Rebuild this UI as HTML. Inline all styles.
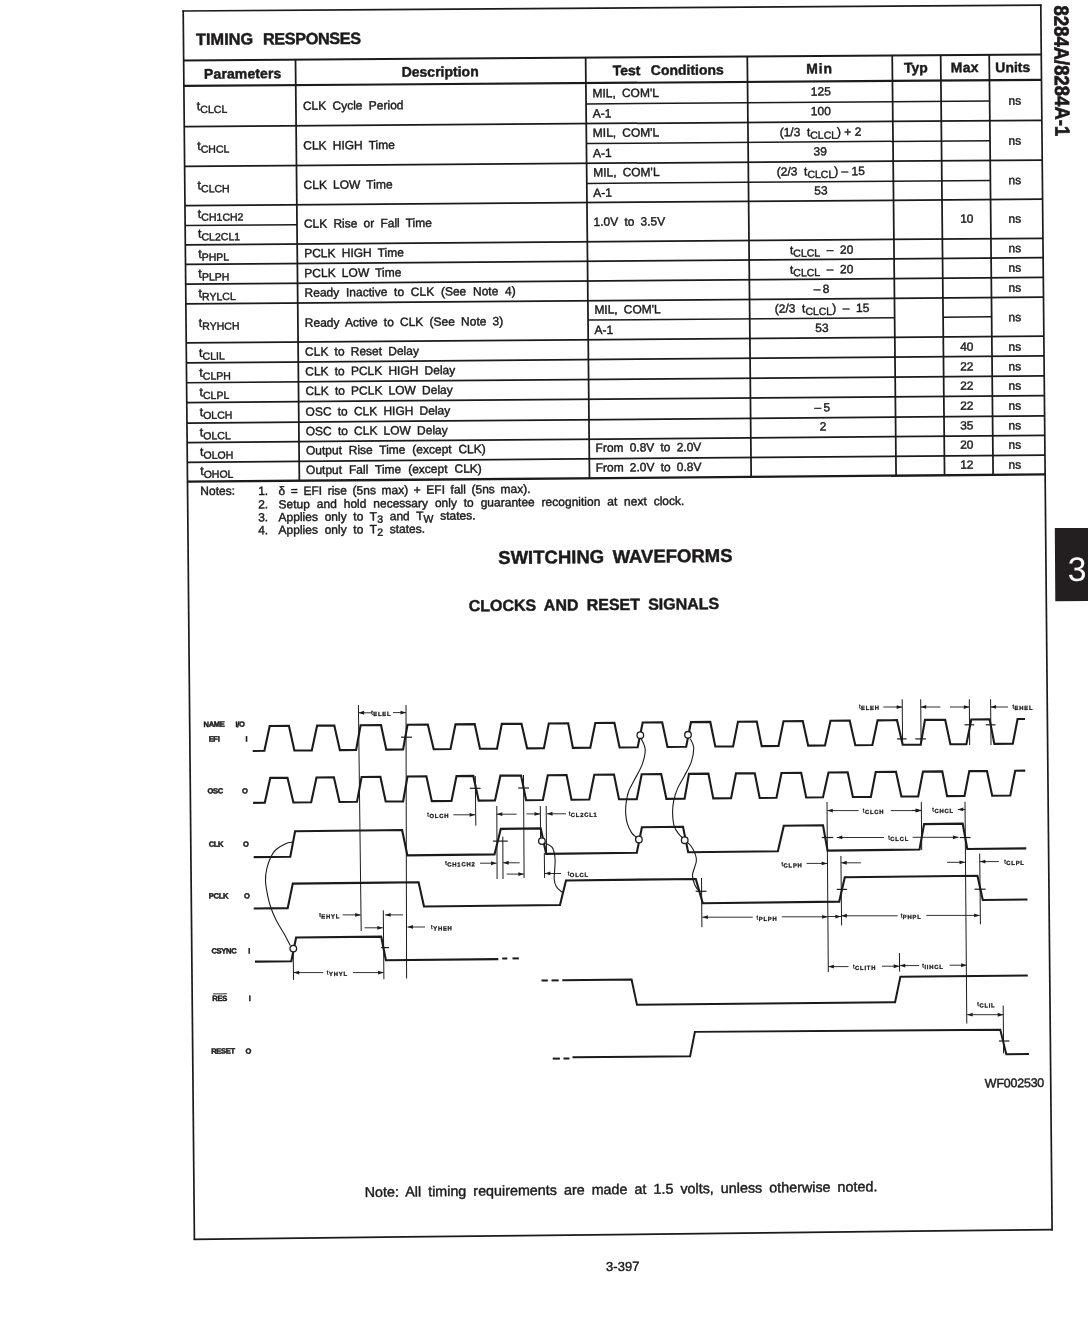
<!DOCTYPE html>
<html><head><meta charset="utf-8"><title>8284A Timing Responses</title>
<style>
html,body{margin:0;padding:0;background:#fff;width:1088px;height:1328px;overflow:hidden}
#pg{position:absolute;left:0;top:0;width:1088px;height:1328px;will-change:transform}
svg{position:absolute;left:0;top:0}
text{font-family:"Liberation Sans",sans-serif}
</style></head><body>
<div id="pg">
<svg width="1088" height="1328" viewBox="0 0 1088 1328">
<g stroke="#1c1a1b" fill="none" stroke-linecap="butt">
<line x1="182.4" y1="11.01" x2="1041.6" y2="5.19" stroke-width="1.7"/>
<line x1="193.6" y1="1239.31" x2="1052.9" y2="1229.59" stroke-width="1.7"/>
<line x1="183.19" y1="10.2" x2="194.41" y2="1240.1" stroke-width="1.7"/>
<line x1="1040.79" y1="4.4" x2="1052.11" y2="1230.4" stroke-width="1.7"/>
<line x1="183.65" y1="60.4" x2="1041.25" y2="54.45" stroke-width="2.0"/>
<line x1="183.88" y1="85.91" x2="1041.49" y2="79.87" stroke-width="2.2"/>
<line x1="184.25" y1="126.51" x2="1041.86" y2="120.34" stroke-width="1.75"/>
<line x1="184.62" y1="166.32" x2="1042.23" y2="160.02" stroke-width="1.75"/>
<line x1="184.97" y1="205.62" x2="1042.59" y2="199.2" stroke-width="1.75"/>
<line x1="185.33" y1="244.83" x2="1042.95" y2="238.28" stroke-width="1.75"/>
<line x1="185.51" y1="264.33" x2="1043.13" y2="257.73" stroke-width="1.75"/>
<line x1="185.69" y1="284.13" x2="1043.31" y2="277.47" stroke-width="1.75"/>
<line x1="185.87" y1="303.84" x2="1043.49" y2="297.11" stroke-width="1.75"/>
<line x1="186.23" y1="342.94" x2="1043.85" y2="336.09" stroke-width="1.75"/>
<line x1="186.41" y1="362.85" x2="1044.04" y2="355.93" stroke-width="1.75"/>
<line x1="186.59" y1="382.75" x2="1044.22" y2="375.77" stroke-width="1.75"/>
<line x1="186.77" y1="402.55" x2="1044.4" y2="395.51" stroke-width="1.75"/>
<line x1="186.96" y1="423.06" x2="1044.59" y2="415.95" stroke-width="1.75"/>
<line x1="187.14" y1="442.56" x2="1044.77" y2="435.39" stroke-width="1.75"/>
<line x1="187.31" y1="462.26" x2="1044.95" y2="455.03" stroke-width="1.75"/>
<line x1="187.49" y1="481.67" x2="1045.13" y2="474.37" stroke-width="2.4"/>
<line x1="295.51" y1="59.63" x2="299.35" y2="480.72" stroke-width="1.75"/>
<line x1="585.64" y1="57.61" x2="589.5" y2="478.25" stroke-width="1.75"/>
<line x1="747.3" y1="56.49" x2="751.17" y2="476.87" stroke-width="1.75"/>
<line x1="892.22" y1="55.48" x2="896.08" y2="475.64" stroke-width="1.75"/>
<line x1="940.68" y1="55.15" x2="944.56" y2="475.23" stroke-width="1.75"/>
<line x1="989.23" y1="54.81" x2="993.11" y2="474.82" stroke-width="1.75"/>
<line x1="185.16" y1="225.62" x2="297.02" y2="224.78" stroke-width="1.5"/>
<line x1="586.07" y1="103.95" x2="989.66" y2="101.08" stroke-width="1.5"/>
<line x1="586.43" y1="143.59" x2="990.03" y2="140.66" stroke-width="1.5"/>
<line x1="586.8" y1="183.44" x2="990.39" y2="180.45" stroke-width="1.5"/>
<line x1="588.05" y1="320.06" x2="894.63" y2="317.63" stroke-width="1.5"/>
<line x1="943.1" y1="317.24" x2="991.65" y2="316.86" stroke-width="1.5"/>
<polyline points="252.7,750.94 264.4,750.83 269.7,726.07 288.9,725.89 294.4,750.54 311.8,750.38 317.1,725.63 334.3,725.47 339.9,750.11 356.1,749.96 360.6,725.22 381,725.03 386.3,749.67 403.1,749.51 407.5,724.78 427.8,724.59 433.7,749.22 450.5,749.06 455.5,724.33 474.7,724.15 480,748.78 497,748.62 501.8,723.89 521.5,723.7 527.1,748.33 543.9,748.17 548.8,723.45 568.19,723.27 572.89,747.89 590.29,747.73 595.29,723.01 614.39,722.83 619.59,747.45 637.69,747.28 642.69,722.56 662.19,722.38 667.49,747 686.19,746.82 690.99,722.11 710.29,721.93 715.29,746.54 733.09,746.37 737.99,721.67 756.79,721.49 761.69,746.1 778.49,745.94 783.49,721.24 802.79,721.06 808.19,745.66 824.99,745.5 830.49,720.8 849.69,720.62 855.29,745.21 872.39,745.05 877.59,720.35 896.99,720.17 902.69,744.76 920.69,744.59 924.99,719.91 945.19,719.72 950.39,744.31 966.39,744.16 971.29,719.47 989.59,719.3 994.39,743.89 1012.79,743.71 1017.59,719.04 1024.99,718.97" stroke-width="2.1" fill="none"/>
<polyline points="253.1,802.84 264.8,802.73 270.3,777.87 287.5,777.71 293.4,802.45 311.2,802.28 316.5,777.43 333.9,777.26 339.5,802 357,801.83 361.6,777 380.4,776.82 385.7,801.56 403.1,801.39 407.5,776.55 426.4,776.37 431.8,801.11 451.5,800.92 456.5,776.08 473.3,775.92 478.7,800.65 495,800.5 500.4,775.66 521.1,775.46 526.1,800.19 542.89,800.03 547.79,775.21 566.59,775.03 571.49,799.75 589.29,799.58 594.29,774.76 613.99,774.57 618.99,799.29 636.79,799.12 641.69,774.31 661.19,774.12 666.39,798.83 684.59,798.66 688.99,773.85 708.39,773.67 713.29,798.38 731.09,798.21 735.99,773.4 754.79,773.22 759.69,797.93 776.49,797.77 781.49,772.96 801.19,772.77 806.19,797.48 822.99,797.32 828.49,772.51 847.69,772.33 852.89,797.03 870.89,796.85 875.69,772.06 895.99,771.86 901.39,796.56 918.19,796.39 922.99,771.6 942.29,771.42 947.09,796.11 964.49,795.94 969.29,771.16 986.99,770.99 992.19,795.68 1010.29,795.5 1015.19,770.72 1025.29,770.62" stroke-width="2.1" fill="none"/>
<polyline points="253.7,857.16 290.3,856.75 295.1,831.19 402.1,829.98 407.4,855.41 494.5,854.42 500.8,828.87 540.69,828.42 546.19,853.83 636.79,852.8 641.89,827.27 682.99,826.81 688.19,852.21 777.89,851.19 783.79,825.67 822.99,825.23 827.59,850.62 919.49,849.58 924.09,824.08 962.69,823.65 967.28,849.03 1026.28,848.36" stroke-width="2.1" fill="none"/>
<polyline points="253.7,908.51 287.7,908.11 292.8,883.65 418.6,882.19 424,906.52 559.99,904.93 565.99,880.48 695.79,878.98 702.79,903.26 839.19,901.67 844.79,877.25 977.48,875.71 982.78,899.99 1027.48,899.47" stroke-width="2.1" fill="none"/>
<polyline points="255,961.65 291.3,961.28 296.1,937.53 381.2,936.66 385.9,960.3 498.29,959.15" stroke-width="2.1" fill="none"/>
<line x1="502.2" y1="958.5" x2="507.3" y2="958.5" stroke-width="2.0"/>
<line x1="512.5" y1="958.4" x2="518.9" y2="958.4" stroke-width="2.0"/>
<polyline points="562.29,980.27 631.59,979.55 636.99,1004.86 895.08,1002.16 900.38,976.76 1027.78,975.44" stroke-width="2.0" fill="none"/>
<line x1="541.5" y1="980.5" x2="547.9" y2="980.5" stroke-width="2.0"/>
<line x1="551.5" y1="980.4" x2="558.7" y2="980.4" stroke-width="2.0"/>
<polyline points="572.49,1057.19 690.09,1056.37 694.89,1031.87 1000.28,1029.77 1006.28,1054.17 1028.98,1054.01" stroke-width="2.0" fill="none"/>
<line x1="552.7" y1="1058.6" x2="559.9" y2="1058.6" stroke-width="2.0"/>
<line x1="563.5" y1="1058.5" x2="569.4" y2="1058.5" stroke-width="2.0"/>
<line x1="358.4" y1="705" x2="361.2" y2="931" stroke-width="1.0"/>
<line x1="406" y1="705" x2="406.6" y2="978.5" stroke-width="1.0"/>
<line x1="475.3" y1="776" x2="475.8" y2="825.7" stroke-width="1.0"/>
<line x1="523.5" y1="775" x2="524.1" y2="878" stroke-width="1.0"/>
<line x1="496.8" y1="806" x2="497.1" y2="879" stroke-width="1.0"/>
<line x1="502.8" y1="836.6" x2="503" y2="879" stroke-width="1.0"/>
<line x1="540.3" y1="806" x2="540.6" y2="839.5" stroke-width="1.0"/>
<line x1="546.2" y1="806" x2="546.5" y2="853" stroke-width="1.0"/>
<line x1="544.3" y1="853" x2="544.6" y2="878" stroke-width="1.0"/>
<line x1="701.5" y1="878" x2="701.9" y2="927.2" stroke-width="1.0"/>
<line x1="827" y1="801.9" x2="828.3" y2="972.1" stroke-width="1.0"/>
<line x1="921.3" y1="801.9" x2="921.7" y2="850" stroke-width="1.0"/>
<line x1="965" y1="801.9" x2="966.8" y2="1023.5" stroke-width="1.0"/>
<line x1="840.9" y1="855.9" x2="841.6" y2="925.5" stroke-width="1.0"/>
<line x1="979.7" y1="853.6" x2="980.4" y2="924.3" stroke-width="1.0"/>
<line x1="899.4" y1="953" x2="899.6" y2="971.6" stroke-width="1.0"/>
<line x1="1003.2" y1="1005.6" x2="1003.6" y2="1053.4" stroke-width="1.0"/>
<line x1="293.2" y1="948.9" x2="293.5" y2="979.8" stroke-width="1.0"/>
<line x1="383.3" y1="910.3" x2="383.9" y2="979.3" stroke-width="1.0"/>
<line x1="902.2" y1="699.3" x2="902.6" y2="744.7" stroke-width="1.0"/>
<line x1="920.7" y1="699.3" x2="921.1" y2="744.5" stroke-width="1.0"/>
<line x1="969.3" y1="699.3" x2="969.7" y2="745" stroke-width="1.0"/>
<line x1="990.6" y1="699.3" x2="991" y2="745" stroke-width="1.0"/>
<line x1="401" y1="737.2" x2="412" y2="737.2" stroke-width="1.2"/>
<line x1="897" y1="738.9" x2="906.6" y2="738.9" stroke-width="1.2"/>
<line x1="915.3" y1="738.9" x2="925.9" y2="738.9" stroke-width="1.2"/>
<line x1="964.5" y1="724.8" x2="974.2" y2="724.8" stroke-width="1.2"/>
<line x1="985.8" y1="724.8" x2="995.4" y2="724.8" stroke-width="1.2"/>
<line x1="469.8" y1="788.3" x2="480.6" y2="788.3" stroke-width="1.2"/>
<line x1="518.2" y1="788" x2="529" y2="788" stroke-width="1.2"/>
<line x1="492.9" y1="841.1" x2="507.7" y2="841.1" stroke-width="1.2"/>
<line x1="821.8" y1="837.5" x2="833.3" y2="837.5" stroke-width="1.2"/>
<line x1="959.7" y1="837.5" x2="970.5" y2="837.5" stroke-width="1.2"/>
<line x1="695.7" y1="891.3" x2="706.5" y2="891.3" stroke-width="1.2"/>
<line x1="836.8" y1="889.4" x2="847.1" y2="889.4" stroke-width="1.2"/>
<line x1="974.6" y1="889.2" x2="985.7" y2="889.2" stroke-width="1.2"/>
<line x1="381.2" y1="947.6" x2="389" y2="947.6" stroke-width="1.2"/>
<line x1="999" y1="1041" x2="1009.4" y2="1041" stroke-width="1.2"/>
<line x1="358.6" y1="712.8" x2="372" y2="712.8" stroke-width="0.9"/>
<polygon points="358.6,712.8 364.09,710.85 364.13,714.65" fill="#1c1a1b" stroke="none"/>
<line x1="393" y1="712.6" x2="406" y2="712.6" stroke-width="0.9"/>
<polygon points="406,712.6 400.48,710.75 400.51,714.55" fill="#1c1a1b" stroke="none"/>
<line x1="883.4" y1="707" x2="902.2" y2="707" stroke-width="0.9"/>
<polygon points="902.2,707 896.7,705.16 896.73,708.95" fill="#1c1a1b" stroke="none"/>
<line x1="920.7" y1="707" x2="940.4" y2="707" stroke-width="0.9"/>
<polygon points="920.7,707 926.17,705.05 926.2,708.84" fill="#1c1a1b" stroke="none"/>
<line x1="950" y1="707" x2="969.3" y2="707" stroke-width="0.9"/>
<polygon points="969.3,707 963.8,705.16 963.83,708.95" fill="#1c1a1b" stroke="none"/>
<line x1="990.6" y1="707" x2="1008" y2="707" stroke-width="0.9"/>
<polygon points="990.6,707 996.07,705.05 996.1,708.84" fill="#1c1a1b" stroke="none"/>
<line x1="453.4" y1="814.8" x2="475.1" y2="814.8" stroke-width="0.9"/>
<polygon points="475.1,814.8 469.58,812.96 469.61,816.75" fill="#1c1a1b" stroke="none"/>
<line x1="496.8" y1="814.2" x2="516.6" y2="814.2" stroke-width="0.9"/>
<polygon points="496.8,814.2 502.29,812.25 502.32,816.04" fill="#1c1a1b" stroke="none"/>
<line x1="526.5" y1="813.9" x2="540" y2="813.9" stroke-width="0.9"/>
<polygon points="540,813.9 534.48,812.06 534.52,815.85" fill="#1c1a1b" stroke="none"/>
<line x1="547" y1="813.8" x2="566" y2="813.8" stroke-width="0.9"/>
<polygon points="547,813.8 552.48,811.85 552.52,815.64" fill="#1c1a1b" stroke="none"/>
<line x1="480" y1="863.2" x2="496.5" y2="863.2" stroke-width="0.9"/>
<polygon points="496.5,863.2 490.98,861.36 491.01,865.15" fill="#1c1a1b" stroke="none"/>
<line x1="503.2" y1="862.8" x2="519.6" y2="862.8" stroke-width="0.9"/>
<polygon points="503.2,862.8 508.69,860.85 508.72,864.64" fill="#1c1a1b" stroke="none"/>
<line x1="506.7" y1="874.1" x2="523.8" y2="874.1" stroke-width="0.9"/>
<polygon points="523.8,874.1 518.28,872.26 518.32,876.05" fill="#1c1a1b" stroke="none"/>
<line x1="544.8" y1="873.5" x2="561" y2="873.5" stroke-width="0.9"/>
<polygon points="544.8,873.5 550.28,871.55 550.32,875.34" fill="#1c1a1b" stroke="none"/>
<line x1="827.3" y1="810.6" x2="858.6" y2="810.6" stroke-width="0.9"/>
<polygon points="827.3,810.6 832.77,808.65 832.81,812.44" fill="#1c1a1b" stroke="none"/>
<line x1="890.8" y1="810.6" x2="921.2" y2="810.6" stroke-width="0.9"/>
<polygon points="921.2,810.6 915.7,808.76 915.73,812.55" fill="#1c1a1b" stroke="none"/>
<line x1="912" y1="810.4" x2="921.2" y2="810.4" stroke-width="0.9"/>
<polygon points="921.2,810.4 915.7,808.56 915.73,812.35" fill="#1c1a1b" stroke="none"/>
<line x1="957.8" y1="809.5" x2="965.2" y2="809.5" stroke-width="0.9"/>
<polygon points="957.8,809.5 963.27,807.55 963.3,811.34" fill="#1c1a1b" stroke="none"/>
<line x1="836.8" y1="837.5" x2="883.9" y2="837.5" stroke-width="0.9"/>
<polygon points="836.8,837.5 842.27,835.55 842.31,839.34" fill="#1c1a1b" stroke="none"/>
<line x1="912.6" y1="837.3" x2="958.5" y2="837.3" stroke-width="0.9"/>
<polygon points="958.5,837.3 953,835.46 953.03,839.25" fill="#1c1a1b" stroke="none"/>
<line x1="806.5" y1="863.4" x2="827.1" y2="863.4" stroke-width="0.9"/>
<polygon points="827.1,863.4 821.59,861.56 821.63,865.35" fill="#1c1a1b" stroke="none"/>
<line x1="841.2" y1="862.8" x2="860.9" y2="862.8" stroke-width="0.9"/>
<polygon points="841.2,862.8 846.67,860.85 846.71,864.64" fill="#1c1a1b" stroke="none"/>
<line x1="947" y1="862.3" x2="965" y2="862.3" stroke-width="0.9"/>
<polygon points="965,862.3 959.5,860.46 959.53,864.25" fill="#1c1a1b" stroke="none"/>
<line x1="979.9" y1="861.6" x2="998.8" y2="861.6" stroke-width="0.9"/>
<polygon points="979.9,861.6 985.37,859.65 985.4,863.44" fill="#1c1a1b" stroke="none"/>
<line x1="702.3" y1="917.2" x2="752.8" y2="917.2" stroke-width="0.9"/>
<polygon points="702.3,917.2 707.78,915.25 707.81,919.04" fill="#1c1a1b" stroke="none"/>
<line x1="781.8" y1="916.8" x2="827.7" y2="916.8" stroke-width="0.9"/>
<polygon points="827.7,916.8 822.19,914.96 822.23,918.75" fill="#1c1a1b" stroke="none"/>
<line x1="827.9" y1="916.5" x2="840.9" y2="916.5" stroke-width="0.9"/>
<polygon points="840.9,916.5 835.39,914.66 835.43,918.45" fill="#1c1a1b" stroke="none"/>
<line x1="841.4" y1="915.8" x2="897.7" y2="915.8" stroke-width="0.9"/>
<polygon points="841.4,915.8 846.87,913.85 846.91,917.64" fill="#1c1a1b" stroke="none"/>
<line x1="926.4" y1="915.4" x2="979.7" y2="915.4" stroke-width="0.9"/>
<polygon points="979.7,915.4 974.2,913.56 974.23,917.35" fill="#1c1a1b" stroke="none"/>
<line x1="342.6" y1="914.9" x2="360.7" y2="914.9" stroke-width="0.9"/>
<polygon points="360.7,914.9 355.17,913.06 355.21,916.86" fill="#1c1a1b" stroke="none"/>
<line x1="364.5" y1="927.8" x2="382.8" y2="927.8" stroke-width="0.9"/>
<polygon points="382.8,927.8 377.28,925.96 377.31,929.76" fill="#1c1a1b" stroke="none"/>
<line x1="385.1" y1="914.9" x2="403.1" y2="914.9" stroke-width="0.9"/>
<polygon points="385.1,914.9 390.59,912.95 390.62,916.74" fill="#1c1a1b" stroke="none"/>
<line x1="407.5" y1="927" x2="425" y2="927" stroke-width="0.9"/>
<polygon points="407.5,927 412.99,925.04 413.02,928.84" fill="#1c1a1b" stroke="none"/>
<line x1="293.7" y1="972.6" x2="323.3" y2="972.6" stroke-width="0.9"/>
<polygon points="293.7,972.6 299.19,970.64 299.23,974.44" fill="#1c1a1b" stroke="none"/>
<line x1="352.9" y1="972.6" x2="383.6" y2="972.6" stroke-width="0.9"/>
<polygon points="383.6,972.6 378.08,970.76 378.11,974.56" fill="#1c1a1b" stroke="none"/>
<line x1="828.4" y1="966.6" x2="848.5" y2="966.6" stroke-width="0.9"/>
<polygon points="828.4,966.6 833.87,964.65 833.91,968.44" fill="#1c1a1b" stroke="none"/>
<line x1="882" y1="966.2" x2="899.2" y2="966.2" stroke-width="0.9"/>
<polygon points="899.2,966.2 893.7,964.36 893.73,968.15" fill="#1c1a1b" stroke="none"/>
<line x1="899.8" y1="965.6" x2="919" y2="965.6" stroke-width="0.9"/>
<polygon points="899.8,965.6 905.27,963.65 905.3,967.44" fill="#1c1a1b" stroke="none"/>
<line x1="949.6" y1="965.2" x2="966.6" y2="965.2" stroke-width="0.9"/>
<polygon points="966.6,965.2 961.1,963.36 961.13,967.15" fill="#1c1a1b" stroke="none"/>
<line x1="967.2" y1="1014.7" x2="1003.2" y2="1014.7" stroke-width="0.9"/>
<polygon points="967.2,1014.7 972.67,1012.75 972.7,1016.54" fill="#1c1a1b" stroke="none"/>
<polygon points="1003.2,1014.7 997.7,1012.86 997.74,1016.65" fill="#1c1a1b" stroke="none"/>
<path d="M292.4,842.1 C291.27,842.37 288.32,842.47 285.6,843.7 C282.88,844.93 278.57,847.3 276.1,849.5 C273.63,851.7 272.38,853.57 270.8,856.9 C269.22,860.23 267.48,865.47 266.6,869.5 C265.72,873.53 265.32,876.7 265.5,881.1 C265.68,885.5 266.82,891.5 267.7,895.9 C268.58,900.3 269.4,903.47 270.8,907.5 C272.2,911.53 273.98,915.88 276.1,920.1 C278.22,924.32 281.13,928.58 283.5,932.8 C285.87,937.02 289.17,943.3 290.3,945.4" stroke-width="1.1" fill="none"/>
<path d="M641.3,738.7 C641.95,740.5 645.03,745.27 645.2,749.5 C645.37,753.73 644.08,759.05 642.3,764.1 C640.52,769.15 636.78,775.23 634.5,779.8 C632.22,784.37 630,787.58 628.6,791.5 C627.2,795.42 626.58,799.7 626.1,803.3 C625.62,806.9 625.53,809.85 625.7,813.1 C625.87,816.35 626.13,819.55 627.1,822.8 C628.07,826.05 629.95,830.15 631.5,832.6 C633.05,835.05 635.58,836.68 636.4,837.5" stroke-width="1.1" fill="none"/>
<path d="M690.2,738.7 C690.78,740.17 693.53,743.58 693.7,747.5 C693.87,751.42 692.75,757.47 691.2,762.2 C689.65,766.93 686.68,771.5 684.4,775.9 C682.12,780.3 679.3,784.37 677.5,788.6 C675.7,792.83 674.42,797.22 673.6,801.3 C672.78,805.38 672.52,809.02 672.6,813.1 C672.68,817.18 673.12,822.38 674.1,825.8 C675.08,829.22 676.78,831.32 678.5,833.6 C680.22,835.88 682.28,837.38 684.4,839.5 C686.52,841.62 689.35,843.72 691.2,846.3 C693.05,848.88 694.67,852.38 695.5,855 C696.33,857.62 696.7,858.65 696.2,862 C695.7,865.35 692.72,871.27 692.5,875.1 C692.28,878.93 693.85,882.37 694.9,885 C695.95,887.63 698.15,889.92 698.8,890.9" stroke-width="1.1" fill="none"/>
<path d="M545,843 C546.2,843.73 550.52,844.68 552.2,847.4 C553.88,850.12 554.77,854.03 555.1,859.3 C555.43,864.57 553.97,874.38 554.2,879 C554.43,883.62 555.12,884.75 556.5,887 C557.88,889.25 561.5,891.58 562.5,892.5" stroke-width="1.1" fill="none"/>
<circle cx="640.3" cy="735.2" r="3.3" fill="#fff" stroke-width="1.3"/>
<circle cx="688" cy="734.8" r="3.3" fill="#fff" stroke-width="1.3"/>
<circle cx="541.9" cy="841.1" r="3.3" fill="#fff" stroke-width="1.3"/>
<circle cx="638.9" cy="839.5" r="3.3" fill="#fff" stroke-width="1.3"/>
<circle cx="684.7" cy="840.2" r="3.3" fill="#fff" stroke-width="1.3"/>
<circle cx="293.3" cy="948.6" r="3.3" fill="#fff" stroke-width="1.3"/>
<line x1="213" y1="993.9" x2="227" y2="993.8" stroke-width="0.9"/>
</g>
<text transform="matrix(0.99626,-0.00674,0.00920,0.99686,1054.2,5.6) rotate(90)" x="0" y="0" style="font-size:20.5px;font-weight:bold" fill="#1c1a1b" stroke="#1c1a1b" stroke-width="0.7" textLength="131" lengthAdjust="spacingAndGlyphs">8284A/8284A-1</text>
<polygon points="1054.8,528.1 1090,527.9 1090,601.0 1055.3,601.2" fill="#231f20"/>
<g>
<text transform="matrix(1.00262,-0.00691,0.00912,1.00004,196.02,44.91)" x="0" y="0" text-anchor="start" style="font-size:16.3px;font-weight:bold" fill="#1c1a1b" stroke="#1c1a1b" stroke-width="0.45" >TIMING</text>
<text transform="matrix(1.00212,-0.00690,0.00913,0.99980,262.92,44.51)" x="0" y="0" text-anchor="start" style="font-size:16.3px;font-weight:bold;letter-spacing:-0.43px" fill="#1c1a1b" stroke="#1c1a1b" stroke-width="0.45" >RESPONSES</text>
<text transform="matrix(1.00256,-0.00703,0.00912,1.00003,204.06,78.71)" x="0" y="0" text-anchor="start" style="font-size:14px;font-weight:bold;letter-spacing:0.10px" fill="#1c1a1b" stroke="#1c1a1b" stroke-width="0.45" >Parameters</text>
<text transform="matrix(1.00110,-0.00702,0.00914,0.99929,401.66,76.81)" x="0" y="0" text-anchor="start" style="font-size:14px;font-weight:bold" fill="#1c1a1b" stroke="#1c1a1b" stroke-width="0.45" >Description</text>
<text transform="matrix(0.99953,-0.00701,0.00916,0.99851,612.66,75.31)" x="0" y="0" text-anchor="start" style="font-size:14px;font-weight:bold;word-spacing:6.59px" fill="#1c1a1b" stroke="#1c1a1b" stroke-width="0.45" >Test Conditions</text>
<text transform="matrix(0.99810,-0.00700,0.00918,0.99780,806.36,73.41)" x="0" y="0" text-anchor="start" style="font-size:14px;font-weight:bold;letter-spacing:0.80px" fill="#1c1a1b" stroke="#1c1a1b" stroke-width="0.45" >Min</text>
<text transform="matrix(0.99737,-0.00699,0.00919,0.99743,903.96,72.61)" x="0" y="0" text-anchor="start" style="font-size:14px;font-weight:bold" fill="#1c1a1b" stroke="#1c1a1b" stroke-width="0.45" >Typ</text>
<text transform="matrix(0.99703,-0.00699,0.00919,0.99726,950.86,72.21)" x="0" y="0" text-anchor="start" style="font-size:14px;font-weight:bold;letter-spacing:0.20px" fill="#1c1a1b" stroke="#1c1a1b" stroke-width="0.45" >Max</text>
<text transform="matrix(0.99670,-0.00699,0.00920,0.99710,995.36,72.21)" x="0" y="0" text-anchor="start" style="font-size:14px;font-weight:bold" fill="#1c1a1b" stroke="#1c1a1b" stroke-width="0.45" >Units</text>
<text transform="matrix(1.00262,-0.00715,0.00912,1.00006,196.85,110.21)" x="0" y="0" text-anchor="start" style="font-size:12.5px;font-weight:normal" fill="#1c1a1b" stroke="#1c1a1b" stroke-width="0.42" ><tspan>t</tspan><tspan dy="2.8" style="font-size:10.5px">CLCL</tspan></text>
<text transform="matrix(1.00263,-0.00730,0.00912,1.00007,197.21,150)" x="0" y="0" text-anchor="start" style="font-size:12.5px;font-weight:normal" fill="#1c1a1b" stroke="#1c1a1b" stroke-width="0.42" ><tspan>t</tspan><tspan dy="2.8" style="font-size:10.5px">CHCL</tspan></text>
<text transform="matrix(1.00263,-0.00744,0.00912,1.00008,197.57,189.5)" x="0" y="0" text-anchor="start" style="font-size:12.5px;font-weight:normal" fill="#1c1a1b" stroke="#1c1a1b" stroke-width="0.42" ><tspan>t</tspan><tspan dy="2.8" style="font-size:10.5px">CLCH</tspan></text>
<text transform="matrix(1.00263,-0.00755,0.00912,1.00009,197.83,218.07)" x="0" y="0" text-anchor="start" style="font-size:12.5px;font-weight:normal" fill="#1c1a1b" stroke="#1c1a1b" stroke-width="0.42" ><tspan>t</tspan><tspan dy="2.8" style="font-size:10.5px">CH1CH2</tspan></text>
<text transform="matrix(1.00263,-0.00762,0.00912,1.00009,198.01,237.72)" x="0" y="0" text-anchor="start" style="font-size:12.5px;font-weight:normal" fill="#1c1a1b" stroke="#1c1a1b" stroke-width="0.42" ><tspan>t</tspan><tspan dy="2.8" style="font-size:10.5px">CL2CL1</tspan></text>
<text transform="matrix(1.00264,-0.00770,0.00912,1.00010,198.19,257.97)" x="0" y="0" text-anchor="start" style="font-size:12.5px;font-weight:normal" fill="#1c1a1b" stroke="#1c1a1b" stroke-width="0.42" ><tspan>t</tspan><tspan dy="2.8" style="font-size:10.5px">PHPL</tspan></text>
<text transform="matrix(1.00264,-0.00777,0.00912,1.00010,198.37,277.82)" x="0" y="0" text-anchor="start" style="font-size:12.5px;font-weight:normal" fill="#1c1a1b" stroke="#1c1a1b" stroke-width="0.42" ><tspan>t</tspan><tspan dy="2.8" style="font-size:10.5px">PLPH</tspan></text>
<text transform="matrix(1.00264,-0.00784,0.00912,1.00011,198.55,297.47)" x="0" y="0" text-anchor="start" style="font-size:12.5px;font-weight:normal" fill="#1c1a1b" stroke="#1c1a1b" stroke-width="0.42" ><tspan>t</tspan><tspan dy="2.8" style="font-size:10.5px">RYLCL</tspan></text>
<text transform="matrix(1.00264,-0.00795,0.00912,1.00012,198.82,327.04)" x="0" y="0" text-anchor="start" style="font-size:12.5px;font-weight:normal" fill="#1c1a1b" stroke="#1c1a1b" stroke-width="0.42" ><tspan>t</tspan><tspan dy="2.8" style="font-size:10.5px">RYHCH</tspan></text>
<text transform="matrix(1.00265,-0.00807,0.00912,1.00013,199.09,356.91)" x="0" y="0" text-anchor="start" style="font-size:12.5px;font-weight:normal" fill="#1c1a1b" stroke="#1c1a1b" stroke-width="0.42" ><tspan>t</tspan><tspan dy="2.8" style="font-size:10.5px">CLIL</tspan></text>
<text transform="matrix(1.00265,-0.00814,0.00912,1.00013,199.27,376.86)" x="0" y="0" text-anchor="start" style="font-size:12.5px;font-weight:normal" fill="#1c1a1b" stroke="#1c1a1b" stroke-width="0.42" ><tspan>t</tspan><tspan dy="2.8" style="font-size:10.5px">CLPH</tspan></text>
<text transform="matrix(1.00265,-0.00821,0.00912,1.00014,199.44,396.21)" x="0" y="0" text-anchor="start" style="font-size:12.5px;font-weight:normal" fill="#1c1a1b" stroke="#1c1a1b" stroke-width="0.42" ><tspan>t</tspan><tspan dy="2.8" style="font-size:10.5px">CLPL</tspan></text>
<text transform="matrix(1.00265,-0.00828,0.00912,1.00014,199.63,416.16)" x="0" y="0" text-anchor="start" style="font-size:12.5px;font-weight:normal" fill="#1c1a1b" stroke="#1c1a1b" stroke-width="0.42" ><tspan>t</tspan><tspan dy="2.8" style="font-size:10.5px">OLCH</tspan></text>
<text transform="matrix(1.00265,-0.00836,0.00912,1.00015,199.81,436.61)" x="0" y="0" text-anchor="start" style="font-size:12.5px;font-weight:normal" fill="#1c1a1b" stroke="#1c1a1b" stroke-width="0.42" ><tspan>t</tspan><tspan dy="2.8" style="font-size:10.5px">OLCL</tspan></text>
<text transform="matrix(1.00266,-0.00843,0.00912,1.00015,199.99,456.06)" x="0" y="0" text-anchor="start" style="font-size:12.5px;font-weight:normal" fill="#1c1a1b" stroke="#1c1a1b" stroke-width="0.42" ><tspan>t</tspan><tspan dy="2.8" style="font-size:10.5px">OLOH</tspan></text>
<text transform="matrix(1.00266,-0.00850,0.00912,1.00016,200.16,475.11)" x="0" y="0" text-anchor="start" style="font-size:12.5px;font-weight:normal" fill="#1c1a1b" stroke="#1c1a1b" stroke-width="0.42" ><tspan>t</tspan><tspan dy="2.8" style="font-size:10.5px">OHOL</tspan></text>
<text transform="matrix(1.00184,-0.00715,0.00913,0.99967,302.88,109.91)" x="0" y="0" text-anchor="start" style="font-size:12px;font-weight:normal;word-spacing:2.92px" fill="#1c1a1b" stroke="#1c1a1b" stroke-width="0.42" >CLK Cycle Period</text>
<text transform="matrix(1.00184,-0.00729,0.00913,0.99968,303.23,149.61)" x="0" y="0" text-anchor="start" style="font-size:12px;font-weight:normal;word-spacing:2.80px" fill="#1c1a1b" stroke="#1c1a1b" stroke-width="0.42" >CLK HIGH Time</text>
<text transform="matrix(1.00184,-0.00744,0.00913,0.99969,303.57,189.01)" x="0" y="0" text-anchor="start" style="font-size:12px;font-weight:normal;word-spacing:2.80px" fill="#1c1a1b" stroke="#1c1a1b" stroke-width="0.42" >CLK LOW Time</text>
<text transform="matrix(1.00185,-0.00758,0.00913,0.99970,303.92,227.81)" x="0" y="0" text-anchor="start" style="font-size:12px;font-weight:normal;word-spacing:2.80px" fill="#1c1a1b" stroke="#1c1a1b" stroke-width="0.42" >CLK Rise or Fall Time</text>
<text transform="matrix(1.00185,-0.00769,0.00913,0.99971,304.18,257.31)" x="0" y="0" text-anchor="start" style="font-size:12px;font-weight:normal;word-spacing:2.80px" fill="#1c1a1b" stroke="#1c1a1b" stroke-width="0.42" >PCLK HIGH Time</text>
<text transform="matrix(1.00185,-0.00777,0.00913,0.99971,304.35,277.21)" x="0" y="0" text-anchor="start" style="font-size:12px;font-weight:normal;word-spacing:2.80px" fill="#1c1a1b" stroke="#1c1a1b" stroke-width="0.42" >PCLK LOW Time</text>
<text transform="matrix(1.00185,-0.00784,0.00913,0.99972,304.52,296.71)" x="0" y="0" text-anchor="start" style="font-size:12px;font-weight:normal;word-spacing:3.37px" fill="#1c1a1b" stroke="#1c1a1b" stroke-width="0.42" >Ready Inactive to CLK (See Note 4)</text>
<text transform="matrix(1.00186,-0.00795,0.00913,0.99973,304.79,326.81)" x="0" y="0" text-anchor="start" style="font-size:12px;font-weight:normal;word-spacing:2.80px" fill="#1c1a1b" stroke="#1c1a1b" stroke-width="0.42" >Ready Active to CLK (See Note 3)</text>
<text transform="matrix(1.00186,-0.00806,0.00913,0.99973,305.04,355.81)" x="0" y="0" text-anchor="start" style="font-size:12px;font-weight:normal;word-spacing:2.80px" fill="#1c1a1b" stroke="#1c1a1b" stroke-width="0.42" >CLK to Reset Delay</text>
<text transform="matrix(1.00186,-0.00813,0.00913,0.99974,305.22,375.41)" x="0" y="0" text-anchor="start" style="font-size:12px;font-weight:normal;word-spacing:2.80px" fill="#1c1a1b" stroke="#1c1a1b" stroke-width="0.42" >CLK to PCLK HIGH Delay</text>
<text transform="matrix(1.00186,-0.00820,0.00913,0.99974,305.39,395.11)" x="0" y="0" text-anchor="start" style="font-size:12px;font-weight:normal;word-spacing:2.80px" fill="#1c1a1b" stroke="#1c1a1b" stroke-width="0.42" >CLK to PCLK LOW Delay</text>
<text transform="matrix(1.00187,-0.00828,0.00913,0.99975,305.56,415.71)" x="0" y="0" text-anchor="start" style="font-size:12px;font-weight:normal;word-spacing:2.80px" fill="#1c1a1b" stroke="#1c1a1b" stroke-width="0.42" >OSC to CLK HIGH Delay</text>
<text transform="matrix(1.00187,-0.00835,0.00913,0.99975,305.74,435.31)" x="0" y="0" text-anchor="start" style="font-size:12px;font-weight:normal;word-spacing:2.80px" fill="#1c1a1b" stroke="#1c1a1b" stroke-width="0.42" >OSC to CLK LOW Delay</text>
<text transform="matrix(1.00187,-0.00842,0.00913,0.99976,305.91,454.51)" x="0" y="0" text-anchor="start" style="font-size:12px;font-weight:normal;word-spacing:3.40px" fill="#1c1a1b" stroke="#1c1a1b" stroke-width="0.42" >Output Rise Time (except CLK)</text>
<text transform="matrix(1.00187,-0.00850,0.00913,0.99976,306.08,474.11)" x="0" y="0" text-anchor="start" style="font-size:12px;font-weight:normal;word-spacing:3.54px" fill="#1c1a1b" stroke="#1c1a1b" stroke-width="0.42" >Output Fall Time (except CLK)</text>
<text transform="matrix(0.99969,-0.00709,0.00916,0.99859,592.48,97.31)" x="0" y="0" text-anchor="start" style="font-size:12px;font-weight:normal;word-spacing:2.80px" fill="#1c1a1b" stroke="#1c1a1b" stroke-width="0.42" >MIL, COM&#x27;L</text>
<text transform="matrix(0.99969,-0.00717,0.00916,0.99860,592.66,117.61)" x="0" y="0" text-anchor="start" style="font-size:12px;font-weight:normal;word-spacing:2.80px" fill="#1c1a1b" stroke="#1c1a1b" stroke-width="0.42" >A-1</text>
<text transform="matrix(0.99969,-0.00724,0.00916,0.99860,592.83,136.91)" x="0" y="0" text-anchor="start" style="font-size:12px;font-weight:normal;word-spacing:2.80px" fill="#1c1a1b" stroke="#1c1a1b" stroke-width="0.42" >MIL, COM&#x27;L</text>
<text transform="matrix(0.99969,-0.00731,0.00916,0.99861,593.01,157.21)" x="0" y="0" text-anchor="start" style="font-size:12px;font-weight:normal;word-spacing:2.80px" fill="#1c1a1b" stroke="#1c1a1b" stroke-width="0.42" >A-1</text>
<text transform="matrix(0.99969,-0.00738,0.00916,0.99861,593.18,176.51)" x="0" y="0" text-anchor="start" style="font-size:12px;font-weight:normal;word-spacing:2.80px" fill="#1c1a1b" stroke="#1c1a1b" stroke-width="0.42" >MIL, COM&#x27;L</text>
<text transform="matrix(0.99970,-0.00746,0.00916,0.99862,593.36,196.91)" x="0" y="0" text-anchor="start" style="font-size:12px;font-weight:normal;word-spacing:2.80px" fill="#1c1a1b" stroke="#1c1a1b" stroke-width="0.42" >A-1</text>
<text transform="matrix(0.99970,-0.00757,0.00916,0.99863,593.61,225.91)" x="0" y="0" text-anchor="start" style="font-size:12px;font-weight:normal;word-spacing:2.80px" fill="#1c1a1b" stroke="#1c1a1b" stroke-width="0.42" >1.0V to 3.5V</text>
<text transform="matrix(0.99971,-0.00789,0.00916,0.99865,594.38,313.71)" x="0" y="0" text-anchor="start" style="font-size:12px;font-weight:normal;word-spacing:2.80px" fill="#1c1a1b" stroke="#1c1a1b" stroke-width="0.42" >MIL, COM&#x27;L</text>
<text transform="matrix(0.99971,-0.00797,0.00916,0.99866,594.56,334.11)" x="0" y="0" text-anchor="start" style="font-size:12px;font-weight:normal;word-spacing:2.80px" fill="#1c1a1b" stroke="#1c1a1b" stroke-width="0.42" >A-1</text>
<text transform="matrix(0.99972,-0.00841,0.00916,0.99869,595.6,451.91)" x="0" y="0" text-anchor="start" style="font-size:12px;font-weight:normal;word-spacing:2.80px" fill="#1c1a1b" stroke="#1c1a1b" stroke-width="0.42" >From 0.8V to 2.0V</text>
<text transform="matrix(0.99972,-0.00848,0.00916,0.99869,595.77,471.71)" x="0" y="0" text-anchor="start" style="font-size:12px;font-weight:normal;word-spacing:2.80px" fill="#1c1a1b" stroke="#1c1a1b" stroke-width="0.42" >From 2.0V to 0.8V</text>
<text transform="matrix(0.99800,-0.00708,0.00918,0.99775,820.8,95.6)" x="0" y="0" text-anchor="middle" style="font-size:12px;font-weight:normal" fill="#1c1a1b" stroke="#1c1a1b" stroke-width="0.42" xml:space="preserve">125</text>
<text transform="matrix(0.99800,-0.00715,0.00918,0.99776,820.8,115.2)" x="0" y="0" text-anchor="middle" style="font-size:12px;font-weight:normal" fill="#1c1a1b" stroke="#1c1a1b" stroke-width="0.42" xml:space="preserve">100</text>
<text transform="matrix(0.99801,-0.00723,0.00918,0.99776,820.5,136.1)" x="0" y="0" text-anchor="middle" style="font-size:12px;font-weight:normal" fill="#1c1a1b" stroke="#1c1a1b" stroke-width="0.42" xml:space="preserve"><tspan>(1/3  t</tspan><tspan dy="2.6" style="font-size:10.5px">CLCL</tspan><tspan dy="-2.6">) + 2</tspan></text>
<text transform="matrix(0.99801,-0.00730,0.00918,0.99777,820.2,155.5)" x="0" y="0" text-anchor="middle" style="font-size:12px;font-weight:normal" fill="#1c1a1b" stroke="#1c1a1b" stroke-width="0.42" xml:space="preserve">39</text>
<text transform="matrix(0.99801,-0.00737,0.00918,0.99777,820.8,175.4)" x="0" y="0" text-anchor="middle" style="font-size:12px;font-weight:normal" fill="#1c1a1b" stroke="#1c1a1b" stroke-width="0.42" xml:space="preserve"><tspan>(2/3  t</tspan><tspan dy="2.6" style="font-size:10.5px">CLCL</tspan><tspan dy="-2.6">) – 15</tspan></text>
<text transform="matrix(0.99802,-0.00745,0.00918,0.99778,821,194.6)" x="0" y="0" text-anchor="middle" style="font-size:12px;font-weight:normal" fill="#1c1a1b" stroke="#1c1a1b" stroke-width="0.42" xml:space="preserve">53</text>
<text transform="matrix(0.99802,-0.00766,0.00918,0.99779,821.7,253.9)" x="0" y="0" text-anchor="middle" style="font-size:12px;font-weight:normal" fill="#1c1a1b" stroke="#1c1a1b" stroke-width="0.42" xml:space="preserve"><tspan>t</tspan><tspan dy="2.6" style="font-size:10.5px">CLCL</tspan><tspan dy="-2.6">  –  20</tspan></text>
<text transform="matrix(0.99802,-0.00774,0.00918,0.99780,821.7,273.4)" x="0" y="0" text-anchor="middle" style="font-size:12px;font-weight:normal" fill="#1c1a1b" stroke="#1c1a1b" stroke-width="0.42" xml:space="preserve"><tspan>t</tspan><tspan dy="2.6" style="font-size:10.5px">CLCL</tspan><tspan dy="-2.6">  –  20</tspan></text>
<text transform="matrix(0.99803,-0.00781,0.00918,0.99781,821.6,293)" x="0" y="0" text-anchor="middle" style="font-size:12px;font-weight:normal" fill="#1c1a1b" stroke="#1c1a1b" stroke-width="0.42" xml:space="preserve">– 8</text>
<text transform="matrix(0.99803,-0.00788,0.00918,0.99781,822.1,312.3)" x="0" y="0" text-anchor="middle" style="font-size:12px;font-weight:normal" fill="#1c1a1b" stroke="#1c1a1b" stroke-width="0.42" xml:space="preserve"><tspan>(2/3  t</tspan><tspan dy="2.6" style="font-size:10.5px">CLCL</tspan><tspan dy="-2.6">)  –  15</tspan></text>
<text transform="matrix(0.99803,-0.00795,0.00918,0.99782,822,331.9)" x="0" y="0" text-anchor="middle" style="font-size:12px;font-weight:normal" fill="#1c1a1b" stroke="#1c1a1b" stroke-width="0.42" xml:space="preserve">53</text>
<text transform="matrix(0.99804,-0.00825,0.00918,0.99784,822.3,411.4)" x="0" y="0" text-anchor="middle" style="font-size:12px;font-weight:normal" fill="#1c1a1b" stroke="#1c1a1b" stroke-width="0.42" xml:space="preserve">– 5</text>
<text transform="matrix(0.99804,-0.00832,0.00918,0.99784,823,430.5)" x="0" y="0" text-anchor="middle" style="font-size:12px;font-weight:normal" fill="#1c1a1b" stroke="#1c1a1b" stroke-width="0.42" xml:space="preserve">2</text>
<text transform="matrix(0.99694,-0.00755,0.00919,0.99725,966.8,222.8)" x="0" y="0" text-anchor="middle" style="font-size:12px;font-weight:normal" fill="#1c1a1b" stroke="#1c1a1b" stroke-width="0.42" >10</text>
<text transform="matrix(0.99696,-0.00802,0.00919,0.99729,966.8,350.7)" x="0" y="0" text-anchor="middle" style="font-size:12px;font-weight:normal" fill="#1c1a1b" stroke="#1c1a1b" stroke-width="0.42" >40</text>
<text transform="matrix(0.99696,-0.00809,0.00919,0.99729,966.8,370.4)" x="0" y="0" text-anchor="middle" style="font-size:12px;font-weight:normal" fill="#1c1a1b" stroke="#1c1a1b" stroke-width="0.42" >22</text>
<text transform="matrix(0.99697,-0.00816,0.00919,0.99730,966.8,389.8)" x="0" y="0" text-anchor="middle" style="font-size:12px;font-weight:normal" fill="#1c1a1b" stroke="#1c1a1b" stroke-width="0.42" >22</text>
<text transform="matrix(0.99697,-0.00824,0.00919,0.99730,966.8,409.8)" x="0" y="0" text-anchor="middle" style="font-size:12px;font-weight:normal" fill="#1c1a1b" stroke="#1c1a1b" stroke-width="0.42" >22</text>
<text transform="matrix(0.99697,-0.00831,0.00919,0.99731,966.8,429.4)" x="0" y="0" text-anchor="middle" style="font-size:12px;font-weight:normal" fill="#1c1a1b" stroke="#1c1a1b" stroke-width="0.42" >35</text>
<text transform="matrix(0.99698,-0.00838,0.00919,0.99731,966.8,448.8)" x="0" y="0" text-anchor="middle" style="font-size:12px;font-weight:normal" fill="#1c1a1b" stroke="#1c1a1b" stroke-width="0.42" >20</text>
<text transform="matrix(0.99698,-0.00846,0.00919,0.99732,966.8,468.8)" x="0" y="0" text-anchor="middle" style="font-size:12px;font-weight:normal" fill="#1c1a1b" stroke="#1c1a1b" stroke-width="0.42" >12</text>
<text transform="matrix(0.99657,-0.00711,0.00920,0.99704,1014.8,104.7)" x="0" y="0" text-anchor="middle" style="font-size:12px;font-weight:normal" fill="#1c1a1b" stroke="#1c1a1b" stroke-width="0.42" >ns</text>
<text transform="matrix(0.99657,-0.00726,0.00920,0.99705,1014.8,144.8)" x="0" y="0" text-anchor="middle" style="font-size:12px;font-weight:normal" fill="#1c1a1b" stroke="#1c1a1b" stroke-width="0.42" >ns</text>
<text transform="matrix(0.99658,-0.00740,0.00920,0.99706,1014.8,184.2)" x="0" y="0" text-anchor="middle" style="font-size:12px;font-weight:normal" fill="#1c1a1b" stroke="#1c1a1b" stroke-width="0.42" >ns</text>
<text transform="matrix(0.99659,-0.00754,0.00920,0.99707,1014.8,222.8)" x="0" y="0" text-anchor="middle" style="font-size:12px;font-weight:normal" fill="#1c1a1b" stroke="#1c1a1b" stroke-width="0.42" >ns</text>
<text transform="matrix(0.99659,-0.00765,0.00920,0.99708,1014.8,252.3)" x="0" y="0" text-anchor="middle" style="font-size:12px;font-weight:normal" fill="#1c1a1b" stroke="#1c1a1b" stroke-width="0.42" >ns</text>
<text transform="matrix(0.99659,-0.00773,0.00920,0.99708,1014.8,271.7)" x="0" y="0" text-anchor="middle" style="font-size:12px;font-weight:normal" fill="#1c1a1b" stroke="#1c1a1b" stroke-width="0.42" >ns</text>
<text transform="matrix(0.99660,-0.00780,0.00920,0.99709,1014.8,291.7)" x="0" y="0" text-anchor="middle" style="font-size:12px;font-weight:normal" fill="#1c1a1b" stroke="#1c1a1b" stroke-width="0.42" >ns</text>
<text transform="matrix(0.99660,-0.00791,0.00920,0.99710,1014.8,321.2)" x="0" y="0" text-anchor="middle" style="font-size:12px;font-weight:normal" fill="#1c1a1b" stroke="#1c1a1b" stroke-width="0.42" >ns</text>
<text transform="matrix(0.99661,-0.00802,0.00920,0.99711,1014.8,350.7)" x="0" y="0" text-anchor="middle" style="font-size:12px;font-weight:normal" fill="#1c1a1b" stroke="#1c1a1b" stroke-width="0.42" >ns</text>
<text transform="matrix(0.99661,-0.00809,0.00920,0.99711,1014.8,370.4)" x="0" y="0" text-anchor="middle" style="font-size:12px;font-weight:normal" fill="#1c1a1b" stroke="#1c1a1b" stroke-width="0.42" >ns</text>
<text transform="matrix(0.99661,-0.00816,0.00920,0.99712,1014.8,389.8)" x="0" y="0" text-anchor="middle" style="font-size:12px;font-weight:normal" fill="#1c1a1b" stroke="#1c1a1b" stroke-width="0.42" >ns</text>
<text transform="matrix(0.99662,-0.00824,0.00920,0.99713,1014.8,409.8)" x="0" y="0" text-anchor="middle" style="font-size:12px;font-weight:normal" fill="#1c1a1b" stroke="#1c1a1b" stroke-width="0.42" >ns</text>
<text transform="matrix(0.99662,-0.00831,0.00920,0.99713,1014.8,429.4)" x="0" y="0" text-anchor="middle" style="font-size:12px;font-weight:normal" fill="#1c1a1b" stroke="#1c1a1b" stroke-width="0.42" >ns</text>
<text transform="matrix(0.99662,-0.00838,0.00920,0.99714,1014.8,448.8)" x="0" y="0" text-anchor="middle" style="font-size:12px;font-weight:normal" fill="#1c1a1b" stroke="#1c1a1b" stroke-width="0.42" >ns</text>
<text transform="matrix(0.99663,-0.00845,0.00920,0.99714,1014.8,468.8)" x="0" y="0" text-anchor="middle" style="font-size:12px;font-weight:normal" fill="#1c1a1b" stroke="#1c1a1b" stroke-width="0.42" >ns</text>
<text transform="matrix(1.00266,-0.00858,0.00912,1.00016,200.28,495.11)" x="0" y="0" text-anchor="start" style="font-size:12px;font-weight:normal" fill="#1c1a1b" stroke="#1c1a1b" stroke-width="0.42" >Notes:</text>
<text transform="matrix(1.00223,-0.00858,0.00913,0.99995,258.18,495.11)" x="0" y="0" text-anchor="start" style="font-size:12px;font-weight:normal" fill="#1c1a1b" stroke="#1c1a1b" stroke-width="0.42" >1.</text>
<text transform="matrix(1.00208,-0.00858,0.00913,0.99987,278.58,495.11)" x="0" y="0" text-anchor="start" style="font-size:12px;font-weight:normal;word-spacing:2.22px" fill="#1c1a1b" stroke="#1c1a1b" stroke-width="0.42" >δ = EFI rise (5ns max) + EFI fall (5ns max).</text>
<text transform="matrix(1.00223,-0.00863,0.00913,0.99995,258.18,508.41)" x="0" y="0" text-anchor="start" style="font-size:12px;font-weight:normal" fill="#1c1a1b" stroke="#1c1a1b" stroke-width="0.42" >2.</text>
<text transform="matrix(1.00208,-0.00862,0.00913,0.99988,278.58,508.41)" x="0" y="0" text-anchor="start" style="font-size:12px;font-weight:normal;word-spacing:3.51px" fill="#1c1a1b" stroke="#1c1a1b" stroke-width="0.42" >Setup and hold necessary only to guarantee recognition at next clock.</text>
<text transform="matrix(1.00223,-0.00867,0.00913,0.99995,258.18,521.41)" x="0" y="0" text-anchor="start" style="font-size:12px;font-weight:normal" fill="#1c1a1b" stroke="#1c1a1b" stroke-width="0.42" >3.</text>
<text transform="matrix(1.00224,-0.00872,0.00913,0.99996,258.18,534.31)" x="0" y="0" text-anchor="start" style="font-size:12px;font-weight:normal" fill="#1c1a1b" stroke="#1c1a1b" stroke-width="0.42" >4.</text>
<text transform="matrix(1.00208,-0.00867,0.00913,0.99988,278.58,521.21)" x="0" y="0" text-anchor="start" style="font-size:12px;font-weight:normal" fill="#1c1a1b" stroke="#1c1a1b" stroke-width="0.42" xml:space="preserve"><tspan>Applies  only  to  T</tspan><tspan dy="2.5" style="font-size:10.5px">3</tspan><tspan dy="-2.5">  and  T</tspan><tspan dy="2.5" style="font-size:10.5px">W</tspan><tspan dy="-2.5">  states.</tspan></text>
<text transform="matrix(1.00208,-0.00872,0.00913,0.99988,278.58,534.11)" x="0" y="0" text-anchor="start" style="font-size:12px;font-weight:normal" fill="#1c1a1b" stroke="#1c1a1b" stroke-width="0.42" xml:space="preserve"><tspan>Applies  only  to  T</tspan><tspan dy="2.5" style="font-size:10.5px">2</tspan><tspan dy="-2.5">  states.</tspan></text>
<text transform="matrix(1.00046,-0.00882,0.00915,0.99908,498.29,563.91)" x="0" y="0" text-anchor="start" style="font-size:18.5px;font-weight:bold;word-spacing:3.37px" fill="#1c1a1b" stroke="#1c1a1b" stroke-width="0.45" >SWITCHING WAVEFORMS</text>
<text transform="matrix(1.00069,-0.00900,0.00915,0.99920,468.74,611.26)" x="0" y="0" text-anchor="start" style="font-size:16px;font-weight:bold;word-spacing:3.72px" fill="#1c1a1b" stroke="#1c1a1b" stroke-width="0.45" >CLOCKS AND RESET SIGNALS</text>
<text transform="matrix(1.00155,-0.01118,0.00914,0.99976,364.74,1197.01)" x="0" y="0" text-anchor="start" style="font-size:14.3px;font-weight:normal;word-spacing:3.07px" fill="#1c1a1b" stroke="#1c1a1b" stroke-width="0.42" >Note: All timing requirements are made at 1.5 volts, unless otherwise noted.</text>
<text transform="matrix(0.99694,-0.01075,0.00920,0.99743,984.85,1087.61)" x="0" y="0" text-anchor="start" style="font-size:12.5px;font-weight:normal;letter-spacing:-0.21px" fill="#1c1a1b" stroke="#1c1a1b" stroke-width="0.42" >WF002530</text>
<text transform="matrix(0.99978,-0.01144,0.00916,0.99889,605.92,1271.11)" x="0" y="0" text-anchor="start" style="font-size:13px;font-weight:normal;letter-spacing:0.10px" fill="#1c1a1b" stroke="#1c1a1b" stroke-width="0.42" >3-397</text>
<text transform="matrix(1.00143,-0.00939,0.00914,0.99959,371.15,714.4)" x="0" y="0" text-anchor="start" style="font-size:5.9px;font-weight:bold" fill="#1c1a1b" stroke="#1c1a1b" stroke-width="0.3" ><tspan style="font-size:6px;font-weight:normal">t</tspan><tspan dy="1.6" dx="0.5" style="letter-spacing:0.75px">ELEL</tspan></text>
<text transform="matrix(0.99782,-0.00935,0.00918,0.99779,858.95,708.4)" x="0" y="0" text-anchor="start" style="font-size:5.9px;font-weight:bold" fill="#1c1a1b" stroke="#1c1a1b" stroke-width="0.3" ><tspan style="font-size:6px;font-weight:normal">t</tspan><tspan dy="1.6" dx="0.5" style="letter-spacing:0.75px">ELEH</tspan></text>
<text transform="matrix(0.99668,-0.00934,0.00920,0.99722,1012.45,708.4)" x="0" y="0" text-anchor="start" style="font-size:5.9px;font-weight:bold" fill="#1c1a1b" stroke="#1c1a1b" stroke-width="0.3" ><tspan style="font-size:6px;font-weight:normal">t</tspan><tspan dy="1.6" dx="0.5" style="letter-spacing:0.75px">EHEL</tspan></text>
<text transform="matrix(1.00103,-0.00976,0.00914,0.99942,427.35,816.4)" x="0" y="0" text-anchor="start" style="font-size:5.9px;font-weight:bold" fill="#1c1a1b" stroke="#1c1a1b" stroke-width="0.3" ><tspan style="font-size:6px;font-weight:normal">t</tspan><tspan dy="1.6" dx="0.5" style="letter-spacing:0.75px">OLCH</tspan></text>
<text transform="matrix(0.99998,-0.00975,0.00916,0.99889,568.65,815.4)" x="0" y="0" text-anchor="start" style="font-size:5.9px;font-weight:bold" fill="#1c1a1b" stroke="#1c1a1b" stroke-width="0.3" ><tspan style="font-size:6px;font-weight:normal">t</tspan><tspan dy="1.6" dx="0.5" style="letter-spacing:0.75px">CL2CL1</tspan></text>
<text transform="matrix(1.00091,-0.00994,0.00915,0.99936,445.15,864.9)" x="0" y="0" text-anchor="start" style="font-size:5.9px;font-weight:bold" fill="#1c1a1b" stroke="#1c1a1b" stroke-width="0.3" ><tspan style="font-size:6px;font-weight:normal">t</tspan><tspan dy="1.6" dx="0.5" style="letter-spacing:0.75px">CH1CH2</tspan></text>
<text transform="matrix(1.00000,-0.00998,0.00916,0.99891,567.65,875.4)" x="0" y="0" text-anchor="start" style="font-size:5.9px;font-weight:bold" fill="#1c1a1b" stroke="#1c1a1b" stroke-width="0.3" ><tspan style="font-size:6px;font-weight:normal">t</tspan><tspan dy="1.6" dx="0.5" style="letter-spacing:0.75px">OLCL</tspan></text>
<text transform="matrix(0.99780,-0.00973,0.00918,0.99780,862.85,812.4)" x="0" y="0" text-anchor="start" style="font-size:5.9px;font-weight:bold" fill="#1c1a1b" stroke="#1c1a1b" stroke-width="0.3" ><tspan style="font-size:6px;font-weight:normal">t</tspan><tspan dy="1.6" dx="0.5" style="letter-spacing:0.75px">CLCH</tspan></text>
<text transform="matrix(0.99729,-0.00973,0.00919,0.99755,932.35,811.4)" x="0" y="0" text-anchor="start" style="font-size:5.9px;font-weight:bold" fill="#1c1a1b" stroke="#1c1a1b" stroke-width="0.3" ><tspan style="font-size:6px;font-weight:normal">t</tspan><tspan dy="1.6" dx="0.5" style="letter-spacing:0.75px">CHCL</tspan></text>
<text transform="matrix(0.99762,-0.00983,0.00919,0.99772,888.15,839.4)" x="0" y="0" text-anchor="start" style="font-size:5.9px;font-weight:bold" fill="#1c1a1b" stroke="#1c1a1b" stroke-width="0.3" ><tspan style="font-size:6px;font-weight:normal">t</tspan><tspan dy="1.6" dx="0.5" style="letter-spacing:0.75px">CLCL</tspan></text>
<text transform="matrix(0.99841,-0.00993,0.00918,0.99812,781.45,865.9)" x="0" y="0" text-anchor="start" style="font-size:5.9px;font-weight:bold" fill="#1c1a1b" stroke="#1c1a1b" stroke-width="0.3" ><tspan style="font-size:6px;font-weight:normal">t</tspan><tspan dy="1.6" dx="0.5" style="letter-spacing:0.75px">CLPH</tspan></text>
<text transform="matrix(0.99677,-0.00992,0.00920,0.99730,1004.15,863.4)" x="0" y="0" text-anchor="start" style="font-size:5.9px;font-weight:bold" fill="#1c1a1b" stroke="#1c1a1b" stroke-width="0.3" ><tspan style="font-size:6px;font-weight:normal">t</tspan><tspan dy="1.6" dx="0.5" style="letter-spacing:0.75px">CLPL</tspan></text>
<text transform="matrix(0.99861,-0.01013,0.00917,0.99823,756.55,919.4)" x="0" y="0" text-anchor="start" style="font-size:5.9px;font-weight:bold" fill="#1c1a1b" stroke="#1c1a1b" stroke-width="0.3" ><tspan style="font-size:6px;font-weight:normal">t</tspan><tspan dy="1.6" dx="0.5" style="letter-spacing:0.75px">PLPH</tspan></text>
<text transform="matrix(0.99754,-0.01012,0.00919,0.99769,900.65,917.4)" x="0" y="0" text-anchor="start" style="font-size:5.9px;font-weight:bold" fill="#1c1a1b" stroke="#1c1a1b" stroke-width="0.3" ><tspan style="font-size:6px;font-weight:normal">t</tspan><tspan dy="1.6" dx="0.5" style="letter-spacing:0.75px">PHPL</tspan></text>
<text transform="matrix(1.00185,-0.01014,0.00913,0.99985,319.15,916.9)" x="0" y="0" text-anchor="start" style="font-size:5.9px;font-weight:bold" fill="#1c1a1b" stroke="#1c1a1b" stroke-width="0.3" ><tspan style="font-size:6px;font-weight:normal">t</tspan><tspan dy="1.6" dx="0.5" style="letter-spacing:0.75px">EHYL</tspan></text>
<text transform="matrix(1.00102,-0.01018,0.00914,0.99944,431.05,928.9)" x="0" y="0" text-anchor="start" style="font-size:5.9px;font-weight:bold" fill="#1c1a1b" stroke="#1c1a1b" stroke-width="0.3" ><tspan style="font-size:6px;font-weight:normal">t</tspan><tspan dy="1.6" dx="0.5" style="letter-spacing:0.75px">YHEH</tspan></text>
<text transform="matrix(1.00180,-0.01035,0.00913,0.99983,326.85,974.4)" x="0" y="0" text-anchor="start" style="font-size:5.9px;font-weight:bold" fill="#1c1a1b" stroke="#1c1a1b" stroke-width="0.3" ><tspan style="font-size:6px;font-weight:normal">t</tspan><tspan dy="1.6" dx="0.5" style="letter-spacing:0.75px">YHYL</tspan></text>
<text transform="matrix(0.99790,-0.01031,0.00918,0.99789,852.95,968.4)" x="0" y="0" text-anchor="start" style="font-size:5.9px;font-weight:bold" fill="#1c1a1b" stroke="#1c1a1b" stroke-width="0.3" ><tspan style="font-size:6px;font-weight:normal">t</tspan><tspan dy="1.6" dx="0.5" style="letter-spacing:0.75px">CLITH</tspan></text>
<text transform="matrix(0.99739,-0.01030,0.00919,0.99763,922.25,967.4)" x="0" y="0" text-anchor="start" style="font-size:5.9px;font-weight:bold" fill="#1c1a1b" stroke="#1c1a1b" stroke-width="0.3" ><tspan style="font-size:6px;font-weight:normal">t</tspan><tspan dy="1.6" dx="0.5" style="letter-spacing:0.75px">IIHCL</tspan></text>
<text transform="matrix(0.99699,-0.01044,0.00920,0.99744,977.25,1005.9)" x="0" y="0" text-anchor="start" style="font-size:5.9px;font-weight:bold" fill="#1c1a1b" stroke="#1c1a1b" stroke-width="0.3" ><tspan style="font-size:6px;font-weight:normal">t</tspan><tspan dy="1.6" dx="0.5" style="letter-spacing:0.75px">CLIL</tspan></text>
<text transform="matrix(1.00268,-0.00944,0.00912,1.00022,203.54,726.9)" x="0" y="0" text-anchor="start" style="font-size:7.6px;font-weight:bold;letter-spacing:-0.35px" fill="#1c1a1b" stroke="#1c1a1b" stroke-width="0.45" >NAME</text>
<text transform="matrix(1.00244,-0.00944,0.00913,1.00010,235.44,726.9)" x="0" y="0" text-anchor="start" style="font-size:7.6px;font-weight:bold;letter-spacing:-0.35px" fill="#1c1a1b" stroke="#1c1a1b" stroke-width="0.45" >I/O</text>
<text transform="matrix(1.00264,-0.00949,0.00912,1.00020,208.64,741.6)" x="0" y="0" text-anchor="start" style="font-size:7.6px;font-weight:bold;letter-spacing:-0.35px" fill="#1c1a1b" stroke="#1c1a1b" stroke-width="0.45" >EFI</text>
<text transform="matrix(1.00237,-0.00949,0.00913,1.00007,245.54,741.6)" x="0" y="0" text-anchor="start" style="font-size:7.6px;font-weight:bold" fill="#1c1a1b" stroke="#1c1a1b" stroke-width="0.45" >I</text>
<text transform="matrix(1.00266,-0.00969,0.00912,1.00022,207.54,793.5)" x="0" y="0" text-anchor="start" style="font-size:7.6px;font-weight:bold;letter-spacing:-0.35px" fill="#1c1a1b" stroke="#1c1a1b" stroke-width="0.45" >OSC</text>
<text transform="matrix(1.00240,-0.00968,0.00913,1.00010,241.94,793.5)" x="0" y="0" text-anchor="start" style="font-size:7.6px;font-weight:bold" fill="#1c1a1b" stroke="#1c1a1b" stroke-width="0.45" >O</text>
<text transform="matrix(1.00266,-0.00988,0.00912,1.00023,208.64,846.8)" x="0" y="0" text-anchor="start" style="font-size:7.6px;font-weight:bold;letter-spacing:-0.35px" fill="#1c1a1b" stroke="#1c1a1b" stroke-width="0.45" >CLK</text>
<text transform="matrix(1.00240,-0.00988,0.00913,1.00011,243.04,846.8)" x="0" y="0" text-anchor="start" style="font-size:7.6px;font-weight:bold" fill="#1c1a1b" stroke="#1c1a1b" stroke-width="0.45" >O</text>
<text transform="matrix(1.00266,-0.01008,0.00912,1.00025,208.84,898.6)" x="0" y="0" text-anchor="start" style="font-size:7.6px;font-weight:bold;letter-spacing:-0.35px" fill="#1c1a1b" stroke="#1c1a1b" stroke-width="0.45" >PCLK</text>
<text transform="matrix(1.00240,-0.01007,0.00913,1.00012,243.94,898.6)" x="0" y="0" text-anchor="start" style="font-size:7.6px;font-weight:bold" fill="#1c1a1b" stroke="#1c1a1b" stroke-width="0.45" >O</text>
<text transform="matrix(1.00265,-0.01028,0.00912,1.00025,211.44,953.6)" x="0" y="0" text-anchor="start" style="font-size:7.6px;font-weight:bold;letter-spacing:-0.35px" fill="#1c1a1b" stroke="#1c1a1b" stroke-width="0.45" >CSYNC</text>
<text transform="matrix(1.00238,-0.01028,0.00913,1.00012,248.14,953.6)" x="0" y="0" text-anchor="start" style="font-size:7.6px;font-weight:bold" fill="#1c1a1b" stroke="#1c1a1b" stroke-width="0.45" >I</text>
<text transform="matrix(1.00265,-0.01046,0.00912,1.00027,212.34,1001)" x="0" y="0" text-anchor="start" style="font-size:7.6px;font-weight:bold;letter-spacing:-0.35px" fill="#1c1a1b" stroke="#1c1a1b" stroke-width="0.45" >RES</text>
<text transform="matrix(1.00238,-0.01045,0.00913,1.00013,248.74,1001)" x="0" y="0" text-anchor="start" style="font-size:7.6px;font-weight:bold" fill="#1c1a1b" stroke="#1c1a1b" stroke-width="0.45" >I</text>
<text transform="matrix(1.00267,-0.01065,0.00912,1.00029,211.14,1053.7)" x="0" y="0" text-anchor="start" style="font-size:7.6px;font-weight:bold;letter-spacing:-0.35px" fill="#1c1a1b" stroke="#1c1a1b" stroke-width="0.45" >RESET</text>
<text transform="matrix(1.00242,-0.01065,0.00913,1.00016,245.44,1053.7)" x="0" y="0" text-anchor="start" style="font-size:7.6px;font-weight:bold" fill="#1c1a1b" stroke="#1c1a1b" stroke-width="0.45" >O</text>
<text transform="matrix(0.99624,-0.00887,0.00920,0.99697,1067.87,580.92)" x="0" y="0" text-anchor="start" style="font-size:34px;font-weight:normal" fill="#ffffff" >3</text>
</g>
</svg>
</div>
</body></html>
